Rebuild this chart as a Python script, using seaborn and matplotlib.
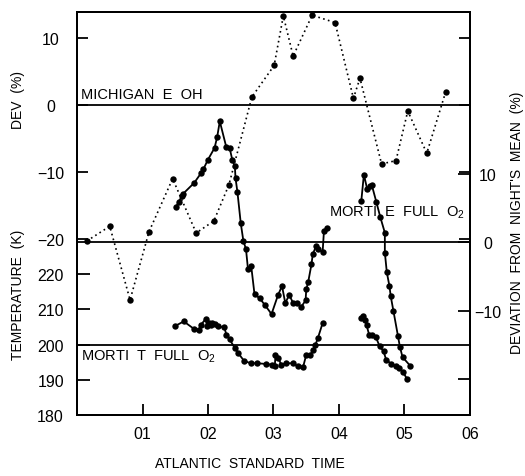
import matplotlib
matplotlib.use("Agg")
import matplotlib.pyplot as plt
import seaborn as sns

sns.set_theme(style="white")
plt.rcParams["font.family"] = ["Liberation Sans", "DejaVu Sans"]
plt.rcParams["mathtext.fontset"] = "custom"
plt.rcParams["mathtext.rm"] = "Liberation Sans"

# Michigan E OH: percent deviation (upper panel, dotted)
oh_hours = [0.15, 0.50, 0.81, 1.10, 1.46, 1.82, 2.09, 2.32, 2.67, 3.01, 3.15,
            3.30, 3.59, 3.94, 4.22, 4.32, 4.65, 4.87, 5.05, 5.34, 5.63]
oh_dev = [-20.3, -18.1, -29.1, -18.9, -11.0, -19.1, -17.3, -11.9, 1.2, 5.9, 13.3,
          7.3, 13.4, 12.3, 1.0, 4.0, -8.8, -8.3, -0.9, -7.2, 2.0]

# MORTI E full O2: deviation from the night's mean (right axis), two runs
e1_hours = [1.51, 1.55, 1.60, 1.62, 1.79, 1.90, 1.93, 2.00, 2.10, 2.14, 2.18,
            2.28, 2.33, 2.37, 2.41, 2.42, 2.45, 2.50, 2.54, 2.58, 2.61, 2.66,
            2.71, 2.79, 2.87, 2.97, 3.07, 3.13, 3.18, 3.24, 3.30, 3.36, 3.42,
            3.49, 3.50, 3.53, 3.58, 3.60, 3.65, 3.68, 3.75, 3.77, 3.82]
e1_dev = [5.1, 5.9, 6.7, 7.1, 8.7, 10.2, 10.7, 12.1, 13.8, 15.4, 17.7,
          13.9, 13.8, 12.1, 11.1, 9.4, 7.3, 2.8, 0.2, -1.0, -3.9, -3.5,
          -7.6, -8.2, -9.2, -10.5, -7.7, -6.4, -8.9, -7.7, -8.9, -8.9, -9.5,
          -8.5, -6.9, -5.8, -3.2, -1.7, -0.6, -1.0, -1.4, 1.6, 2.1]
e2_hours = [4.34, 4.38, 4.43, 4.47, 4.50, 4.57, 4.63, 4.70, 4.70, 4.73, 4.77,
            4.79, 4.83, 4.90, 4.93, 4.97, 5.09]
e2_dev = [6.0, 9.9, 7.8, 8.3, 8.4, 5.9, 3.7, 1.4, -1.5, -4.4, -6.4,
          -7.9, -10.0, -13.7, -15.3, -16.8, -18.1]

# MORTI T full O2: rotational temperature (K), two runs
t1_hours = [1.49, 1.63, 1.79, 1.86, 1.89, 1.97, 1.98, 2.02, 2.04, 2.06, 2.11,
            2.15, 2.25, 2.28, 2.33, 2.41, 2.46, 2.55, 2.65, 2.75, 2.89, 2.97,
            3.02, 3.03, 3.07, 3.12, 3.19, 3.30, 3.37, 3.45, 3.50, 3.56, 3.61,
            3.64, 3.68, 3.75]
t1_temp = [205.2, 206.6, 204.4, 204.2, 205.6, 207.4, 205.3, 206.1, 205.6, 206.1, 205.9,
           205.2, 204.9, 202.8, 201.5, 199.0, 197.6, 195.4, 194.7, 194.7, 194.5, 194.3,
           193.8, 197.1, 196.2, 194.3, 194.7, 194.7, 193.8, 193.5, 197.1, 197.1, 198.5,
           199.9, 202.0, 206.1]
t2_hours = [4.33, 4.36, 4.40, 4.42, 4.46, 4.51, 4.56, 4.62, 4.68, 4.72, 4.80,
            4.87, 4.92, 4.98, 5.04]
t2_temp = [207.5, 208.0, 207.0, 205.6, 202.8, 202.7, 202.3, 199.5, 198.1, 195.7, 194.5,
           193.8, 193.3, 192.1, 190.2]

hour_ticks = [0, 1, 2, 3, 4, 5, 6]
hour_labels = ["", "01", "02", "03", "04", "05", "06"]
dev_ticks = [10, 0, -10, -20]
dev_labels = ["10", "0", "\u221210", "\u221220"]
temp_ticks = [180, 190, 200, 210, 220]
temp_labels = ["180", "190", "200", "210", "220"]
right_ticks = [10, 0, -10, -20]
right_labels = ["10", "0", "\u221210", ""]

W, H = 525, 477
fig = plt.figure(figsize=(W / 100, H / 100), dpi=100)
ax = fig.add_axes([77 / W, 61 / H, 393 / W, 403 / H])
ax_t = ax.twinx()
ax_r = ax.twinx()
ax_t.yaxis.tick_left()

ink = "black"
line_kw = dict(color=ink, marker="o", markersize=4.6, markeredgewidth=0,
               sort=False, estimator=None)

sns.lineplot(x=oh_hours, y=oh_dev, ax=ax, linewidth=1.2,
             linestyle=(0, (1, 2.0)), **line_kw)
sns.lineplot(x=e1_hours, y=e1_dev, ax=ax_r, linewidth=1.3, **line_kw)
sns.lineplot(x=e2_hours, y=e2_dev, ax=ax_r, linewidth=1.3, **line_kw)
sns.lineplot(x=t1_hours, y=t1_temp, ax=ax_t, linewidth=1.3, **line_kw)
sns.lineplot(x=t2_hours, y=t2_temp, ax=ax_t, linewidth=1.3, **line_kw)

# panel separators
ax.axhline(0, color=ink, lw=1.3)
ax_r.axhline(0, color=ink, lw=1.3)
ax_t.axhline(200, color=ink, lw=1.3)

ax.set_xlim(0, 6)
ax.set_ylim(-46.27, 13.88)
ax_t.set_ylim(180, 294.5)
ax_r.set_ylim(-25.27, 33.69)

ax.set_xticks(hour_ticks)
ax.set_xticklabels(hour_labels)
ax.set_yticks(dev_ticks)
ax.set_yticklabels(dev_labels)
ax_t.set_yticks(temp_ticks)
ax_t.set_yticklabels(temp_labels)
ax_r.set_yticks(right_ticks)
ax_r.set_yticklabels(right_labels)

for a in (ax, ax_t, ax_r):
    a.set_xlabel("")
    a.set_ylabel("")
    for s in a.spines.values():
        s.set_color(ink)
        s.set_linewidth(1.3)

tfs = 11.5
fs = 10.5
ax.tick_params(axis="x", direction="in", length=8, width=1.3, bottom=True,
               top=False, labelsize=tfs, pad=8, colors=ink)
ax.tick_params(axis="y", direction="in", length=8, width=1.3, left=True,
               right=True, labelleft=True, labelright=False, labelsize=tfs,
               pad=19, colors=ink)
ax_t.tick_params(axis="y", direction="in", length=9, width=1.3, left=True,
                 right=False, labelleft=True, labelright=False, labelsize=tfs,
                 pad=19, colors=ink)
ax_r.tick_params(axis="y", direction="in", length=9, width=1.3, right=True,
                 left=False, labelright=True, labelleft=False, labelsize=tfs,
                 pad=13, colors=ink)
for lab in ax.get_yticklabels() + ax_t.get_yticklabels():
    lab.set_horizontalalignment("center")
for lab in ax_r.get_yticklabels():
    lab.set_horizontalalignment("center")

ax.text(0.06, 1.64, "MICHIGAN  E  OH", fontsize=fs, va="center", ha="left", color=ink)
ax_r.text(3.84, 4.4, r"MORTI  E  FULL  O$\mathregular{_2}$", fontsize=fs,
          va="center", ha="left", color=ink)
ax_t.text(0.06, 196.7, r"MORTI  T  FULL  O$\mathregular{_2}$", fontsize=fs,
          va="center", ha="left", color=ink)

lfs = 10
fig.text(18 / W, 1 - 100 / H, "DEV  (%)", rotation=90, fontsize=lfs,
         ha="center", va="center", color=ink)
fig.text(18 / W, 1 - 295 / H, "TEMPERATURE  (K)", rotation=90, fontsize=lfs,
         ha="center", va="center", color=ink)
fig.text(517 / W, 1 - 223 / H, "DEVIATION  FROM  NIGHT'S  MEAN  (%)", rotation=90,
         fontsize=lfs, ha="center", va="center", color=ink)
fig.text(250 / W, 1 - 464 / H, "ATLANTIC  STANDARD  TIME", fontsize=lfs,
         ha="center", va="center", color=ink)

fig.savefig("out.png", dpi=100)
